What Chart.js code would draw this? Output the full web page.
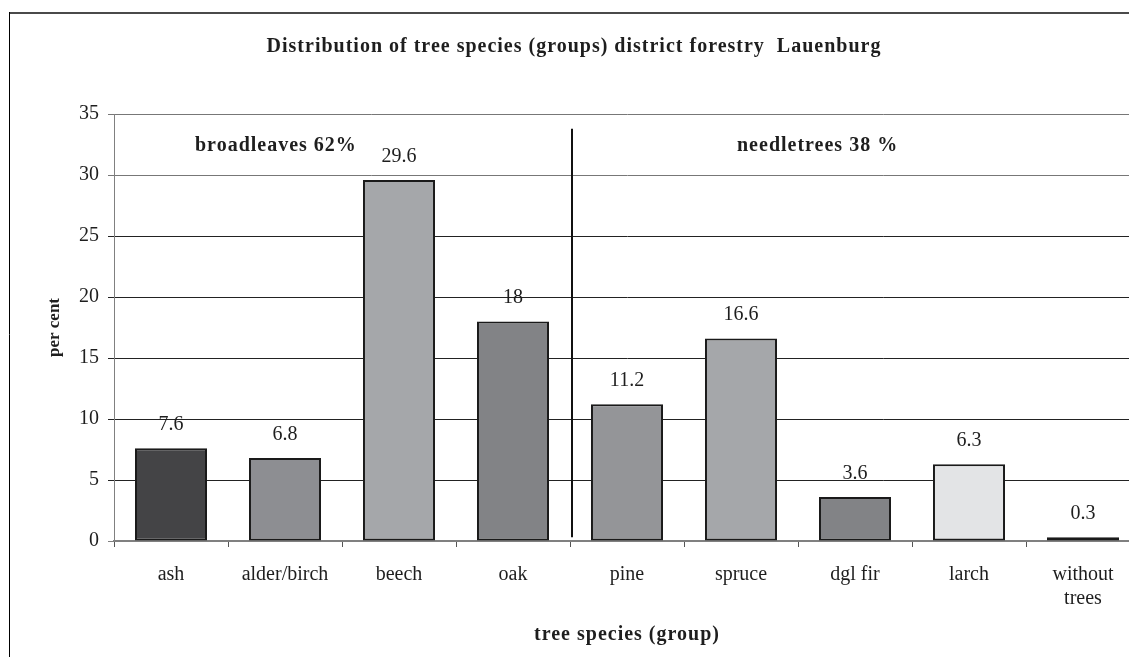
<!DOCTYPE html>
<html>
<head>
<meta charset="utf-8">
<script src="https://cdn.jsdelivr.net/npm/chart.js@4/dist/chart.umd.min.js"></script>
<style>
  html, body { margin: 0; padding: 0; overflow: hidden; background: #fff; }
  #wrap { position: relative; width: 1150px; height: 657px; }
</style>
</head>
<body>
<div id="wrap"><canvas id="c" width="1150" height="657"></canvas></div>
<script>
// Tree species groups and their share of the forest area (per cent)
const categories = ['ash', 'alder/birch', 'beech', 'oak', 'pine', 'spruce', 'dgl fir', 'larch', ['without', 'trees']];
const shares = [7.6, 6.8, 29.6, 18, 11.2, 16.6, 3.6, 6.3, 0.3];
const barColors = ['#444446', '#8d8e92', '#a5a7aa', '#828386', '#949598', '#a5a7aa', '#828386', '#e3e4e6', '#444446'];
const yTicks = [0, 5, 10, 15, 20, 25, 30, 35];
const groupNotes = ['broadleaves 62%', 'needletrees 38 %'];
const chartTitle = 'Distribution of tree species (groups) district forestry  Lauenburg';
const xTitle = 'tree species (group)';
const yTitle = 'per cent';

const SERIF = "'Liberation Serif', 'Times New Roman', serif";
const INK = '#1e1e1e';

// Frame, wide-spaced headings, value labels, group divider and group notes
const decor = {
  id: 'decor',
  beforeDraw(chart) {
    const ctx = chart.ctx;
    if (chart.titleBlock && !chart.titleBlock._spaced) {
      const orig = chart.titleBlock.draw;
      chart.titleBlock.draw = function () {
        ctx.save(); ctx.letterSpacing = '1px'; orig.apply(this, arguments); ctx.restore();
      };
      chart.titleBlock._spaced = true;
    }
    const xs = chart.scales.x;
    if (xs && !xs._spaced) {
      const o = xs.drawTitle;
      xs.drawTitle = function () {
        ctx.save(); ctx.letterSpacing = '1px'; o.apply(this, arguments); ctx.restore();
      };
      xs._spaced = true;
    }
    // outer frame of the chart
    ctx.save();
    ctx.strokeStyle = '#4a4a4a';
    ctx.lineWidth = 2;
    ctx.beginPath(); ctx.moveTo(9, 13); ctx.lineTo(chart.width, 13); ctx.stroke();
    ctx.strokeStyle = '#000';
    ctx.lineWidth = 1;
    ctx.beginPath(); ctx.moveTo(9.5, 12); ctx.lineTo(9.5, chart.height); ctx.stroke();
    ctx.restore();
  },
  afterDatasetsDraw(chart) {
    const ctx = chart.ctx;
    const xs = chart.scales.x, ys = chart.scales.y;
    const meta = chart.getDatasetMeta(0);
    ctx.save();
    // value above each bar
    ctx.font = '20px ' + SERIF;
    ctx.fillStyle = INK;
    ctx.textAlign = 'center';
    ctx.textBaseline = 'middle';
    meta.data.forEach((bar, i) => {
      ctx.fillText(String(shares[i]), bar.x, bar.y - 23.5);
    });
    // divider between broadleaves and needle trees
    const dx = Math.round(xs.getPixelForValue(3.5)) + 2;
    ctx.strokeStyle = '#111';
    ctx.lineWidth = 2;
    ctx.beginPath();
    ctx.moveTo(dx, ys.getPixelForValue(33.8));
    ctx.lineTo(dx, ys.getPixelForValue(0.3));
    ctx.stroke();
    // group notes
    ctx.font = 'bold 20px ' + SERIF;
    ctx.letterSpacing = '1px';
    ctx.textAlign = 'left';
    ctx.textBaseline = 'alphabetic';
    const ny = ys.getPixelForValue(32.0);
    ctx.fillText(groupNotes[0], chart.chartArea.left + 81, ny);
    ctx.fillText(groupNotes[1], chart.chartArea.left + 623, ny);
    ctx.restore();
  }
};

new Chart(document.getElementById('c'), {
  type: 'bar',
  data: {
    labels: categories,
    datasets: [{
      data: shares,
      backgroundColor: barColors,
      borderColor: '#1a1a1a',
      borderWidth: 2,
      borderSkipped: false,
      categoryPercentage: 1,
      barPercentage: 0.632
    }]
  },
  options: {
    responsive: false,
    animation: false,
    layout: { padding: { left: 8, right: 10, top: 0, bottom: 0 } },
    plugins: {
      legend: { display: false },
      tooltip: { enabled: false },
      title: {
        display: true,
        text: chartTitle,
        color: INK,
        font: { family: SERIF, size: 20, weight: 'bold', lineHeight: 1.2 },
        padding: { top: 35, bottom: 55 }
      }
    },
    scales: {
      x: {
        grid: { drawOnChartArea: false, drawTicks: true, tickLength: 6, color: '#555', offset: true },
        border: { color: '#808080', width: 2 },
        ticks: {
          color: INK,
          padding: 16,
          maxRotation: 0,
          autoSkip: false,
          font: { family: SERIF, size: 20, lineHeight: 1.2 }
        },
        title: {
          display: true,
          text: xTitle,
          color: INK,
          font: { family: SERIF, size: 20, weight: 'bold', lineHeight: 1.2 },
          padding: { top: 0, bottom: 10 }
        },
        afterFit(scale) { scale.height = 116; }
      },
      y: {
        min: 0,
        max: 35,
        afterBuildTicks(scale) { scale.ticks = yTicks.map(v => ({ value: v })); },
        grid: {
          drawTicks: true,
          tickLength: 6,
          color: (c) => (c.tick && c.tick.value >= 30) ? '#777' : (c.tick && c.tick.value === 0 ? '#808080' : '#222'),
          lineWidth: 1
        },
        border: { color: '#808080', width: 1 },
        ticks: {
          color: INK,
          padding: 9,
          font: { family: SERIF, size: 20 }
        },
        title: {
          display: true,
          text: yTitle,
          color: INK,
          font: { family: SERIF, size: 17, weight: 'bold', lineHeight: 1.2 },
          padding: { top: 36.4, bottom: 0 }
        },
        afterFit(scale) { scale.width = 106; }
      }
    }
  },
  plugins: [decor]
});
</script>
</body>
</html>
